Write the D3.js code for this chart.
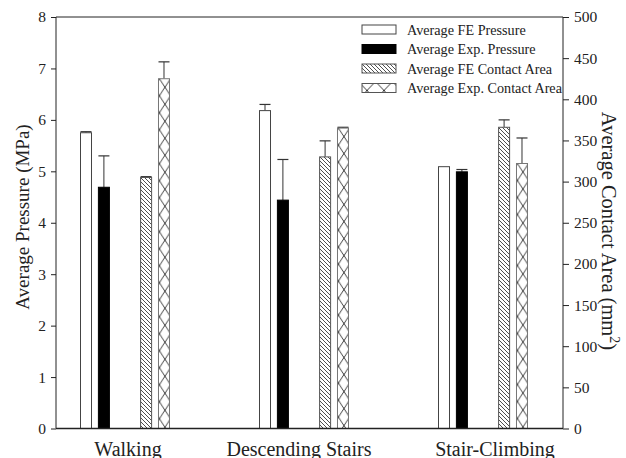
<!DOCTYPE html>
<html>
<head>
<meta charset="utf-8">
<script src="https://cdn.jsdelivr.net/npm/d3@7"></script>
<style>
  body { margin: 0; background: #fff; }
  svg { display: block; font-family: "Liberation Serif", "Times New Roman", serif; }
</style>
</head>
<body>
<div id="chart"></div>
<script>
// Data
const categories = ["Walking", "Descending Stairs", "Stair-Climbing"];
const fePressure = [5.75, 6.18, 5.09];
const fePressureErr = [0.02, 0.12, 0.0];
const expPressure = [4.69, 4.44, 4.99];
const expPressureErr = [0.61, 0.79, 0.045];
const feArea = [305, 330, 366];
const feAreaErr = [1, 19.5, 9];
const expArea = [425, 365, 322];
const expAreaErr = [20.5, 1, 31];
const leftTicks = [0, 1, 2, 3, 4, 5, 6, 7, 8];
const rightTicks = [0, 50, 100, 150, 200, 250, 300, 350, 400, 450, 500];

const seriesNames = ["Average FE Pressure", "Average Exp. Pressure", "Average FE Contact Area", "Average Exp. Contact Area"];

const W = 626, H = 458;
const margin = { top: 17, right: 63, bottom: 29.5, left: 56 };
const width = W - margin.left - margin.right;
const height = H - margin.top - margin.bottom;

const svg = d3.select("#chart").append("svg")
  .attr("width", W).attr("height", H);

const defs = svg.append("defs");

// diagonal hatch
const hatch = defs.append("pattern")
  .attr("id", "hatch")
  .attr("patternUnits", "userSpaceOnUse")
  .attr("width", 4).attr("height", 4);
hatch.append("rect").attr("width", 4).attr("height", 4).attr("fill", "#fff");
hatch.append("path")
  .attr("d", "M-1,-1 L5,5 M-1,3 L1,5 M3,-1 L5,1")
  .attr("stroke", "#222").attr("stroke-width", 0.8);

function crossPattern(id, x, y, w, h) {
  const p = defs.append("pattern")
    .attr("id", id)
    .attr("patternUnits", "userSpaceOnUse")
    .attr("x", x).attr("y", y)
    .attr("width", w).attr("height", h);
  p.append("rect").attr("width", w).attr("height", h).attr("fill", "#fff");
  p.append("path")
    .attr("d", `M0,0 L${w},${h} M${w},0 L0,${h}`)
    .attr("stroke", "#222").attr("stroke-width", 0.9);
}

const g = svg.append("g").attr("transform", `translate(${margin.left},${margin.top})`);

// scales
const x = d3.scalePoint().domain(categories).range([69, 427]);
const groupX = d3.scaleBand().domain(["pressure", "area"]).range([-44.5, 44.5]).paddingInner(0.519);
const innerX = d3.scaleBand().domain([0, 1]).range([0, groupX.bandwidth()]).paddingInner(0.385);
const yL = d3.scaleLinear().domain([0, 8]).range([height, 0]);
const yR = d3.scaleLinear().domain([0, 500]).range([height, 0]);

const bars = [];
categories.forEach((c, i) => {
  bars.push({ cat: c, grp: "pressure", k: 0, v: fePressure[i], e: fePressureErr[i], y: yL, fill: "#fff", stroke: "#444" });
  bars.push({ cat: c, grp: "pressure", k: 1, v: expPressure[i], e: expPressureErr[i], y: yL, fill: "#000", stroke: "#000" });
  bars.push({ cat: c, grp: "area", k: 0, v: feArea[i], e: feAreaErr[i], y: yR, fill: "url(#hatch)", stroke: "#555" });
  bars.push({ cat: c, grp: "area", k: 1, v: expArea[i], e: expAreaErr[i], y: yR, fill: null, stroke: "#777", cross: true });
});

bars.forEach((d, i) => {
  d.x0 = x(d.cat) + groupX(d.grp) + innerX(d.k);
  d.w = innerX.bandwidth();
  if (d.cross) {
    crossPattern("cross" + i, margin.left + d.x0, margin.top + d.y(d.v), d.w, 17);
    d.fill = `url(#cross${i})`;
  }
});

// error bars (upper only)
const err = g.append("g");
bars.filter(d => d.e > 0).forEach(d => {
  const cx = d.x0 + d.w / 2;
  err.append("line")
    .attr("x1", cx).attr("x2", cx)
    .attr("y1", d.y(d.v)).attr("y2", d.y(d.v + d.e))
    .attr("stroke", "#333").attr("stroke-width", 1);
  err.append("line")
    .attr("x1", d.x0).attr("x2", d.x0 + d.w)
    .attr("y1", d.y(d.v + d.e)).attr("y2", d.y(d.v + d.e))
    .attr("stroke", "#333").attr("stroke-width", 1.2);
});

g.append("g").selectAll("rect")
  .data(bars)
  .enter().append("rect")
  .attr("x", d => d.x0)
  .attr("y", d => d.y(d.v))
  .attr("width", d => d.w)
  .attr("height", d => height - d.y(d.v))
  .attr("fill", d => d.fill)
  .attr("stroke", d => d.stroke)
  .attr("stroke-width", 1);

// frame lines
g.append("line").attr("x1", 0).attr("x2", width).attr("y1", 0).attr("y2", 0).attr("stroke", "#222");
g.append("line").attr("x1", 0).attr("x2", width).attr("y1", height).attr("y2", height).attr("stroke", "#222").attr("stroke-width", 1.3);

// axes
const axL = g.append("g")
  .call(d3.axisLeft(yL).tickValues(leftTicks).tickSize(5).tickPadding(5).tickFormat(d3.format("d")));
const axR = g.append("g")
  .attr("transform", `translate(${width},0)`)
  .call(d3.axisRight(yR).tickValues(rightTicks).tickSize(6).tickPadding(5).tickFormat(d3.format("d")));
[axL, axR].forEach(a => {
  a.select(".domain").attr("stroke", "#222").attr("d", `M0,0V${height}`);
  a.selectAll(".tick line").attr("stroke", "#222");
  a.selectAll("text").attr("font-size", 15.5).attr("fill", "#222")
    .attr("font-family", "Liberation Serif, serif");
});

// category labels (slightly off the group centres, as in the original)
const labelShift = [3, -5, 12];
g.append("g").selectAll("text")
  .data(categories)
  .enter().append("text")
  .attr("x", (d, i) => x(d) + labelShift[i])
  .attr("y", height + 27)
  .attr("text-anchor", "middle")
  .attr("font-size", 20)
  .attr("fill", "#222")
  .text(d => d);

// axis titles
svg.append("text")
  .attr("transform", `translate(29,217) rotate(-90)`)
  .attr("text-anchor", "middle")
  .attr("font-size", 19)
  .attr("fill", "#222")
  .text("Average Pressure (MPa)");

const rt = svg.append("text")
  .attr("transform", `translate(602,231) rotate(90)`)
  .attr("text-anchor", "middle")
  .attr("font-size", 20.5)
  .attr("fill", "#222");
rt.append("tspan").text("Average Contact Area (mm");
rt.append("tspan").attr("dy", -8).attr("font-size", 14).text("2");
rt.append("tspan").attr("dy", 8).text(")");

// legend
crossPattern("crossLegend", 362, 25, 17, 18);
const legendFills = [
  { fill: "#fff", stroke: "#444" },
  { fill: "#000", stroke: "#000" },
  { fill: "url(#hatch)", stroke: "#555" },
  { fill: "url(#crossLegend)", stroke: "#555" }
];
const legend = svg.append("g").selectAll("g")
  .data(seriesNames)
  .enter().append("g")
  .attr("transform", (d, i) => `translate(362,${25 + i * 19.5})`);
legend.append("rect")
  .attr("width", 34).attr("height", 9)
  .attr("fill", (d, i) => legendFills[i].fill)
  .attr("stroke", (d, i) => legendFills[i].stroke);
legend.append("text")
  .attr("x", 45).attr("y", 9.5)
  .attr("font-size", 14.2)
  .attr("fill", "#222")
  .text(d => d);
</script>
</body>
</html>
